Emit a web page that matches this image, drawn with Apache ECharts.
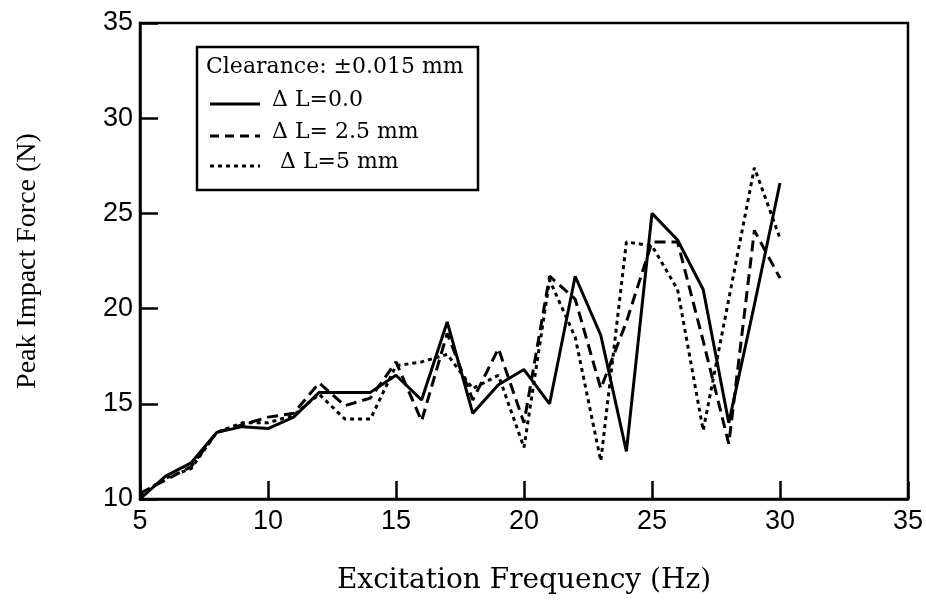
<!DOCTYPE html>
<html>
<head>
<meta charset="utf-8">
<script src="https://cdn.jsdelivr.net/npm/echarts@6/dist/echarts.min.js"></script>
<style>html,body{margin:0;padding:0;background:#fff;}#c{width:926px;height:609px;}</style>
</head>
<body>
<div id="c"></div>
<script>
const freq = [5,6,7,8,9,10,11,12,13,14,15,16,17,18,19,20,21,22,23,24,25,26,27,28,29,30];
const dL0  = [10.0,11.2,11.9,13.5,13.8,13.7,14.3,15.6,15.6,15.6,16.5,15.2,19.3,14.5,16.0,16.8,15.0,21.7,18.6,12.5,25.0,23.6,21.0,14.0,20.2,26.6];
const dL25 = [10.3,11.0,11.7,13.5,13.9,14.3,14.5,16.1,14.9,15.3,17.2,14.1,18.7,15.2,17.9,14.0,21.7,20.5,15.8,19.3,23.5,23.5,18.3,12.9,24.1,21.6];
const dL5  = [10.2,11.1,11.6,13.5,14.0,14.0,14.4,15.5,14.2,14.2,17.0,17.2,17.6,15.8,16.5,12.7,21.5,18.5,12.0,23.5,23.3,21.0,13.6,20.5,27.4,23.7];
const xTicks = {min:5, max:35, step:5};
const yTicks = {min:10, max:35, step:5};
const legendTitle = 'Clearance: \u00b10.015 mm';
const seriesNames = ['\u0394 L=0.0', '\u0394 L= 2.5 mm', '\u0394 L=5 mm'];

const pair = (ys) => freq.map((x,i)=>[x, ys[i]]);
const serif = '"DejaVu Serif", "Liberation Serif", serif';
const serif2 = '"Liberation Serif", "DejaVu Serif", serif';
const sans = '"Liberation Sans", Arial, sans-serif';

const chart = echarts.init(document.getElementById('c'), null, {renderer:'canvas'});
const lineTypes = ['solid', [11,6], [4,4]];
const datas = [dL0, dL25, dL5];

chart.setOption({
  animation:false,
  backgroundColor:'#fff',
  grid:{left:140, top:23, right:16, bottom:110, show:true, borderColor:'#000', borderWidth:2.5, backgroundColor:'transparent'},
  xAxis:{
    type:'value', min:xTicks.min, max:xTicks.max, interval:xTicks.step,
    name:'Excitation Frequency (Hz)', nameLocation:'middle', nameGap:68,
    nameTextStyle:{fontFamily:serif, fontSize:28, color:'#000'},
    axisLine:{show:true, lineStyle:{color:'#000', width:2.5}},
    axisTick:{show:true, inside:true, length:18, lineStyle:{color:'#000', width:2.5}},
    axisLabel:{fontFamily:sans, fontSize:27, color:'#000', margin:9},
    splitLine:{show:false}
  },
  yAxis:{
    type:'value', min:yTicks.min, max:yTicks.max, interval:yTicks.step,
    name:'Peak Impact Force (N)', nameLocation:'middle', nameGap:98,
    nameTextStyle:{fontFamily:serif2, fontSize:28, color:'#000'},
    axisLine:{show:true, lineStyle:{color:'#000', width:2.5}},
    axisTick:{show:true, inside:true, length:18, lineStyle:{color:'#000', width:2.5}},
    axisLabel:{fontFamily:sans, fontSize:27, color:'#000', margin:7},
    splitLine:{show:false}
  },
  series: datas.map((d,i)=>({
    type:'line', name:seriesNames[i], data:pair(d), symbol:'none',
    lineStyle:{color:'#000', width:3, type:lineTypes[i]}, z:3+i
  })),
  graphic:[
    {type:'rect', shape:{x:197, y:47, width:281, height:143}, style:{fill:'#fff', stroke:'#000', lineWidth:2.5}, z:10},
    {type:'text', left:206, top:56, style:{text:legendTitle, font:'22px '+serif, fill:'#000'}, z:11},
    {type:'line', shape:{x1:210, y1:104, x2:260, y2:104}, style:{stroke:'#000', lineWidth:3}, z:11},
    {type:'text', left:272, top:89, style:{text:seriesNames[0], font:'22px '+serif, fill:'#000'}, z:11},
    {type:'line', shape:{x1:210, y1:136, x2:260, y2:136}, style:{stroke:'#000', lineWidth:3, lineDash:[9,6]}, z:11},
    {type:'text', left:272, top:121, style:{text:seriesNames[1], font:'22px '+serif, fill:'#000'}, z:11},
    {type:'line', shape:{x1:210, y1:166, x2:260, y2:166}, style:{stroke:'#000', lineWidth:3, lineDash:[4,4]}, z:11},
    {type:'text', left:280, top:151, style:{text:seriesNames[2], font:'22px '+serif, fill:'#000'}, z:11}
  ]
});
</script>
</body>
</html>
